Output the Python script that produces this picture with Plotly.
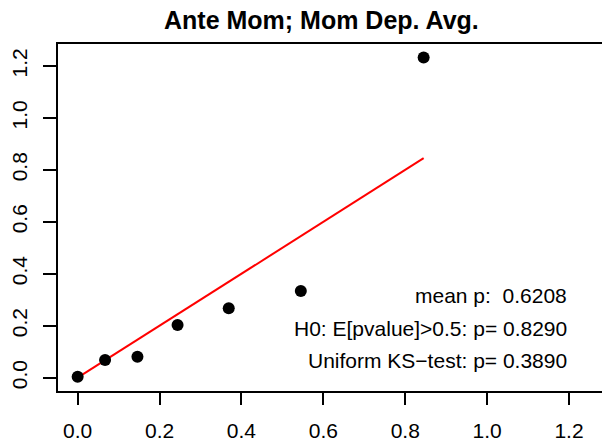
import plotly.graph_objects as go

# Data
x_vals = [0.0, 0.067, 0.146, 0.244, 0.369, 0.545, 0.845]
y_vals = [0.004, 0.068, 0.081, 0.203, 0.267, 0.334, 1.233]
ref_line_x = [0.0, 0.845]
ref_line_y = [0.0, 0.845]
x_ticks = [0.0, 0.2, 0.4, 0.6, 0.8, 1.0, 1.2]
y_ticks = [0.0, 0.2, 0.4, 0.6, 0.8, 1.0, 1.2]
title_text = "Ante Mom; Mom Dep. Avg."
stat_lines = ["mean p:  0.6208", "H0: E[pvalue]>0.5: p= 0.8290", "Uniform KS\u2212test: p= 0.3890"]
stat_y = [0.315, 0.188, 0.065]

FONT = "Liberation Sans, Arial, Helvetica, sans-serif"

fig = go.Figure()
fig.add_trace(go.Scatter(x=ref_line_x, y=ref_line_y, mode="lines",
                         line=dict(color="#ff0000", width=2), showlegend=False))
fig.add_trace(go.Scatter(x=x_vals, y=y_vals, mode="markers",
                         marker=dict(color="black", size=12), showlegend=False))

for txt, yy in zip(stat_lines, stat_y):
    fig.add_annotation(x=1.2, y=yy, xref="x", yref="y", text=txt, showarrow=False,
                       xanchor="right", yanchor="middle",
                       font=dict(family=FONT, size=21, color="black"))

fig.add_annotation(x=0.485, y=1.069, xref="paper", yref="paper",
                   text="<b>" + title_text + "</b>", showarrow=False,
                   xanchor="center", yanchor="middle",
                   font=dict(family=FONT, size=25, color="black"))

fig.update_layout(
    width=602, height=447,
    margin=dict(l=58, r=0, t=44, b=56),
    paper_bgcolor="white", plot_bgcolor="white",
    font=dict(family=FONT, size=21, color="black"),
    xaxis=dict(range=[-0.048, 1.2806], tickvals=x_ticks,
               ticktext=[f"{v:.1f}" for v in x_ticks],
               showgrid=False, zeroline=False, showline=True, linecolor="black",
               linewidth=1.5, mirror=True, ticks="outside", ticklen=12,
               tickwidth=1.5, tickcolor="black", ticklabelstandoff=8),
    yaxis=dict(range=[-0.0512, 1.2847], tickvals=y_ticks,
               ticktext=[f"{v:.1f}" for v in y_ticks], tickangle=-90,
               showgrid=False, zeroline=False, showline=True, linecolor="black",
               linewidth=1.5, ticks="outside", ticklen=13,
               tickwidth=1.5, tickcolor="black", ticklabelstandoff=8),
)

fig.write_html("out.html", config={"displayModeBar": False},
               post_script="document.body.style.margin='0';document.body.style.padding='0';")
